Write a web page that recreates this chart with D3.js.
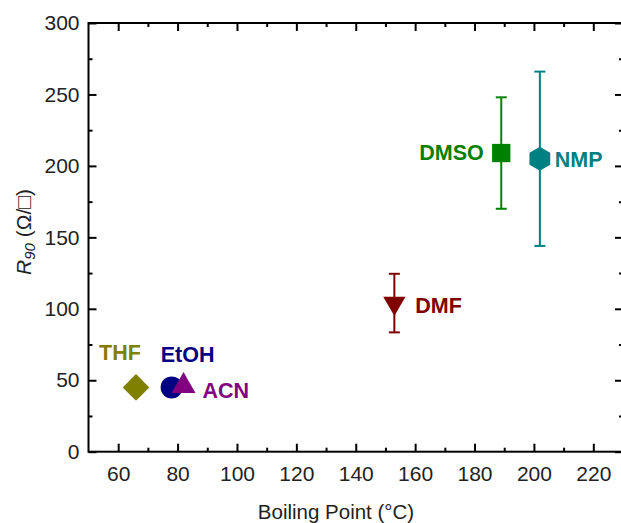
<!DOCTYPE html>
<html>
<head>
<meta charset="utf-8">
<script src="https://cdn.jsdelivr.net/npm/d3@7"></script>
<style>
  body { margin: 0; background: white; }
  svg { display: block; font-family: Arial, "Liberation Sans", sans-serif; }
</style>
</head>
<body>
<div id="container"></div>
<script>
/* DATA */
const solvents = ["THF", "EtOH", "ACN", "DMF", "DMSO", "NMP"];
const boilingPoint = [66, 78, 82, 153, 189, 202];
const r90 = [45, 45, 46, 104, 209, 205];
const r90Err = [0, 0, 0, 20.5, 39, 61];
const colors = ["#808000", "#000080", "#800080", "#800000", "#008000", "#008080"];
const shapes = ["diamond", "circle", "triangle", "triangleDown", "square", "hexagon"];

const xTicks = [60, 80, 100, 120, 140, 160, 180, 200, 220];
const xMinor = [70, 90, 110, 130, 150, 170, 190, 210, 230];
const yTicks = [0, 50, 100, 150, 200, 250, 300];
const yMinor = [25, 75, 125, 175, 225, 275];

/* CONSTANTS */
const width = 621,
  height = 523;
const plot = { left: 88.5, right: 623, top: 23, bottom: 451.7 };

// label placement relative to marker centre (pixels)
const labelPos = {
  THF: { dx: -16, dy: -27, anchor: "middle" },
  EtOH: { dx: 16, dy: -25, anchor: "middle" },
  ACN: { dx: 19, dy: 12, anchor: "start" },
  DMF: { dx: 21, dy: 10, anchor: "start" },
  DMSO: { dx: -17.5, dy: 7, anchor: "end" },
  NMP: { dx: 15, dy: 8.5, anchor: "start" }
};

const data = solvents.map((s, i) => ({
  name: s, bp: boilingPoint[i], r: r90[i], err: r90Err[i],
  color: colors[i], shape: shapes[i]
}));

const svg = d3.select("#container")
  .append("svg")
  .attr("width", width)
  .attr("height", height);

/* SCALES */
const xScale = d3.scaleLinear().domain([50, 230]).range([plot.left, plot.right]);
const yScale = d3.scaleLinear().domain([0, 300]).range([plot.bottom, plot.top]);

/* AXES */
function styleAxis(g) {
  g.select(".domain").remove();
  g.selectAll(".tick line").attr("stroke", "#000").attr("stroke-width", 2);
  g.selectAll(".tick text").attr("fill", "#222").style("font-size", "21px");
}

svg.append("g")
  .attr("transform", `translate(0,${plot.bottom})`)
  .call(d3.axisBottom(xScale).tickValues(xTicks).tickSize(-8).tickPadding(14))
  .call(styleAxis);
svg.append("g")
  .attr("transform", `translate(0,${plot.bottom})`)
  .call(d3.axisBottom(xScale).tickValues(xMinor).tickSize(-4).tickFormat(""))
  .call(styleAxis);
svg.append("g")
  .attr("transform", `translate(0,${plot.top})`)
  .call(d3.axisTop(xScale).tickValues(xTicks).tickSize(-8).tickFormat(""))
  .call(styleAxis);
svg.append("g")
  .attr("transform", `translate(0,${plot.top})`)
  .call(d3.axisTop(xScale).tickValues(xMinor).tickSize(-4).tickFormat(""))
  .call(styleAxis);

svg.append("g")
  .attr("transform", `translate(${plot.left},0)`)
  .call(d3.axisLeft(yScale).tickValues(yTicks).tickSize(-8).tickPadding(9))
  .call(styleAxis);
svg.append("g")
  .attr("transform", `translate(${plot.left},0)`)
  .call(d3.axisLeft(yScale).tickValues(yMinor).tickSize(-4).tickFormat(""))
  .call(styleAxis);
svg.append("g")
  .attr("transform", `translate(${plot.right},0)`)
  .call(d3.axisRight(yScale).tickValues(yTicks).tickSize(-8).tickFormat(""))
  .call(styleAxis);
svg.append("g")
  .attr("transform", `translate(${plot.right},0)`)
  .call(d3.axisRight(yScale).tickValues(yMinor).tickSize(-4).tickFormat(""))
  .call(styleAxis);

// frame
svg.append("rect")
  .attr("x", plot.left)
  .attr("y", plot.top)
  .attr("width", plot.right - plot.left)
  .attr("height", plot.bottom - plot.top)
  .attr("fill", "none")
  .attr("stroke", "#000")
  .attr("stroke-width", 2);

/* AXIS TITLES */
svg.append("text")
  .attr("x", 336)
  .attr("y", 519)
  .attr("text-anchor", "middle")
  .attr("fill", "#222")
  .style("font-size", "20.5px")
  .text("Boiling Point (°C)");

const yTitle = svg.append("text")
  .attr("transform", "translate(31,232) rotate(-90)")
  .attr("text-anchor", "middle")
  .attr("fill", "#222")
  .style("font-size", "21px");
yTitle.append("tspan").style("font-style", "italic").text("R");
yTitle.append("tspan").style("font-style", "italic").style("font-size", "15px").attr("dy", 4).text("90");
yTitle.append("tspan").attr("dy", -4).text(" (Ω/□)");

/* ERROR BARS */
const cap = 5.5;
const errs = svg.selectAll(".err")
  .data(data.filter(d => d.err > 0))
  .join("g")
  .attr("class", "err")
  .attr("stroke", d => d.color)
  .attr("stroke-width", 2);
errs.append("line")
  .attr("x1", d => xScale(d.bp)).attr("x2", d => xScale(d.bp))
  .attr("y1", d => yScale(d.r - d.err)).attr("y2", d => yScale(d.r + d.err));
errs.append("line")
  .attr("x1", d => xScale(d.bp) - cap).attr("x2", d => xScale(d.bp) + cap)
  .attr("y1", d => yScale(d.r + d.err)).attr("y2", d => yScale(d.r + d.err));
errs.append("line")
  .attr("x1", d => xScale(d.bp) - cap).attr("x2", d => xScale(d.bp) + cap)
  .attr("y1", d => yScale(d.r - d.err)).attr("y2", d => yScale(d.r - d.err));

/* MARKERS */
function hexagon(rad) {
  const p = d3.path();
  for (let k = 0; k < 6; k++) {
    const a = Math.PI / 2 + k * Math.PI / 3;
    const px = rad * Math.cos(a), py = rad * Math.sin(a);
    if (k === 0) p.moveTo(px, py); else p.lineTo(px, py);
  }
  p.closePath();
  return p.toString();
}

function markerPath(shape) {
  switch (shape) {
    case "diamond": return d3.symbol(d3.symbolSquare, 356)();
    case "circle": return d3.symbol(d3.symbolCircle, 380)();
    case "triangle": return d3.symbol(d3.symbolTriangle, 249)();
    case "triangleDown": return d3.symbol(d3.symbolTriangle, 215)();
    case "square": return d3.symbol(d3.symbolSquare, 335)();
    case "hexagon": return hexagon(12);
  }
}
const rotation = { diamond: 45, triangleDown: 180 };

svg.selectAll(".dot")
  .data(data)
  .join("path")
  .attr("class", "dot")
  .attr("d", d => markerPath(d.shape))
  .attr("transform", d => `translate(${xScale(d.bp)},${yScale(d.r)}) rotate(${rotation[d.shape] || 0})`)
  .attr("fill", d => d.color);

/* LABELS */
svg.selectAll(".label")
  .data(data)
  .join("text")
  .attr("class", "label")
  .attr("x", d => xScale(d.bp) + labelPos[d.name].dx)
  .attr("y", d => yScale(d.r) + labelPos[d.name].dy)
  .attr("text-anchor", d => labelPos[d.name].anchor)
  .attr("fill", d => d.color)
  .style("font-size", "21.5px")
  .style("font-weight", "bold")
  .text(d => d.name);
</script>
</body>
</html>
